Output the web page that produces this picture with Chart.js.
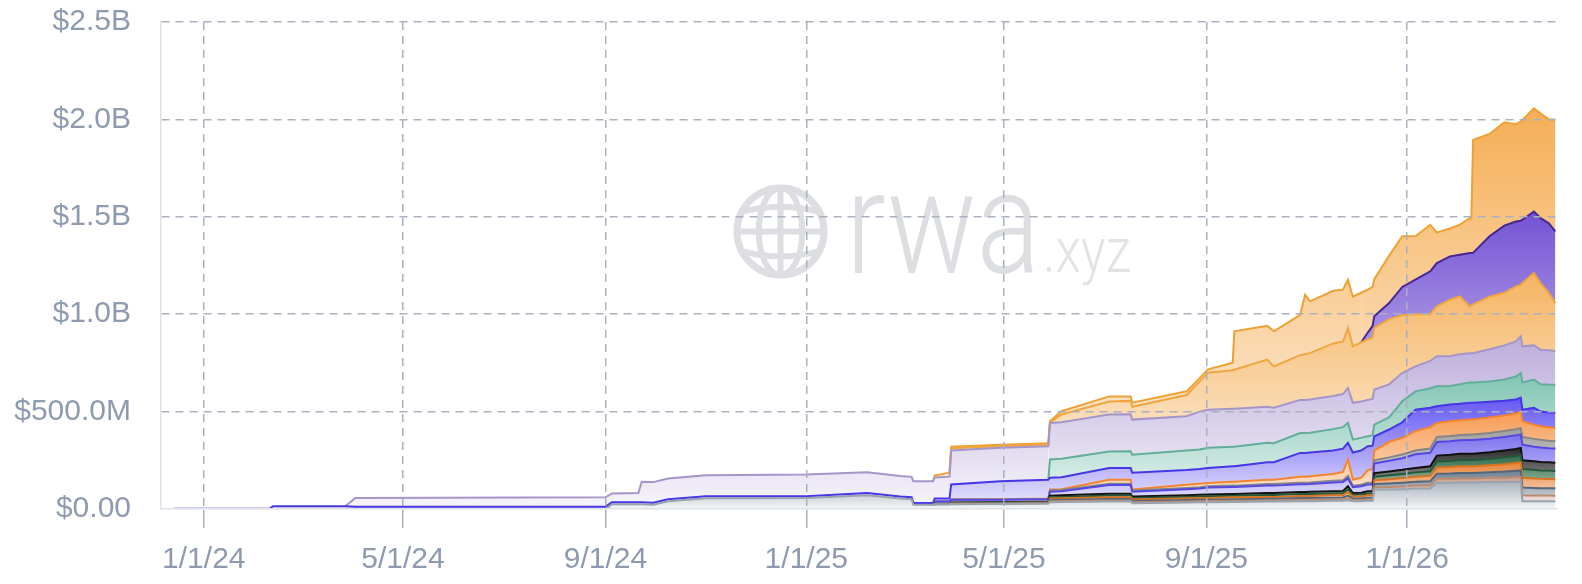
<!DOCTYPE html>
<html><head><meta charset="utf-8">
<script src="https://cdn.jsdelivr.net/npm/chart.js@4.4.1/dist/chart.umd.min.js"></script>
<style>html,body{margin:0;padding:0;background:#fff;}#wrap{width:1582px;height:584px;}</style>
</head><body><div id="wrap"><canvas id="c" width="1582" height="584"></canvas></div>
<script>
// ---------- DATA (values in $M, stacked bottom -> top) ----------
const dates = ['2023-12-14','2024-02-10','2024-02-12','2024-03-27','2024-04-02','2024-09-01','2024-09-05','2024-09-21','2024-09-23','2024-09-30','2024-10-09','2024-11-01','2025-01-01','2025-02-07','2025-02-27','2025-03-06','2025-03-07','2025-03-19','2025-03-20','2025-03-29','2025-03-30','2025-04-29','2025-05-28','2025-05-29','2025-06-05','2025-07-04','2025-07-17','2025-07-18','2025-08-20','2025-08-28','2025-09-02','2025-09-17','2025-09-18','2025-10-08','2025-10-12','2025-10-28','2025-10-31','2025-11-03','2025-11-17','2025-11-23','2025-11-26','2025-11-29','2025-12-04','2025-12-08','2025-12-11','2025-12-12','2025-12-21','2025-12-29','2026-01-06','2026-01-15','2026-01-19','2026-01-27','2026-02-02','2026-02-08','2026-02-09','2026-02-10','2026-02-20','2026-03-01','2026-03-08','2026-03-11','2026-03-12','2026-03-19','2026-03-23','2026-03-28','2026-04-01'];

const grayBase = [0,0,0,0,0,0,24,24,24,22,40,55,56,70,54,50,22,22,24,24,25,26,28,35,36,38,38,30,34,35,35,36,36,38,38,40,40,40,42,42,45,40,40,42,42,100,100,102,105,105,135,135,136,136,136,136,138,138,140,140,40,40,40,40,40];
const tan = [0,0,0,0,0,0,0,0,0,0,0,0,0,0,0,0,0,0,0,0,1,1,1,5,5,6,6,5,5,5,6,6,6,6,6,7,7,7,7,7,10,6,6,7,7,12,13,14,15,16,20,20,21,21,21,21,22,23,24,25,30,29,29,29,28];
const slate = [0,0,0,0,0,0,0,0,0,0,0,0,0,0,0,0,0,0,1,1,2,2,2,6,6,7,7,6,7,7,7,8,8,8,8,9,9,9,9,10,14,8,8,9,9,16,18,19,20,22,26,27,28,28,28,28,29,31,32,33,40,39,38,38,38];
const orange2 = [0,0,0,0,0,0,0,0,0,0,0,0,0,0,0,0,0,0,1,1,2,2,3,8,8,9,9,8,9,9,9,10,10,10,10,11,11,11,12,12,17,10,10,12,12,20,22,24,25,27,33,34,35,35,35,35,36,38,40,41,50,49,48,47,47];
const darkGreen = [0,0,0,0,0,0,0,0,0,0,0,0,0,0,0,0,0,0,0,0,2,2,2,7,7,9,9,7,8,8,9,8,8,10,10,10,10,10,10,11,15,9,10,10,10,18,20,21,23,24,30,31,31,32,32,32,33,35,36,37,45,44,43,43,42];
const black = [0,0,0,0,0,0,0,0,0,0,0,0,0,0,0,0,0,0,1,1,2,2,2,7,8,9,9,8,8,9,9,9,9,10,10,10,10,11,11,11,16,9,10,11,11,18,20,21,23,25,30,31,32,32,32,32,33,35,36,37,45,44,43,43,42];
const violet2 = [0,0,0,0,0,0,0,0,0,0,0,0,0,0,0,0,0,0,12,12,14,13,12,21,21,45,45,25,30,32,35,36,36,38,38,40,40,40,45,46,40,30,33,35,35,50,55,60,70,70,70,70,70,70,70,70,70,70,70,70,80,75,75,72,73];
const gray2 = [0,0,0,0,0,0,0,0,0,0,0,0,0,0,0,0,0,0,1,1,1,1,2,6,6,7,7,6,7,7,7,7,7,8,8,8,8,8,9,9,13,8,8,9,9,16,17,19,19,21,26,27,27,28,28,28,29,30,32,32,40,40,39,38,38];
const orangeBand = [0,0,0,0,0,0,0,0,0,0,0,0,0,0,0,0,0,0,0,0,0,1,2,5,5,20,20,5,17,18,17,20,20,22,22,30,30,32,35,42,84,31,35,65,70,50,80,85,100,110,72,75,75,78,78,78,80,80,80,85,80,73,70,70,68];
const blue = [1,1,14,14,12,12,11,11,11,10,10,10,10,12,10,10,9,9,14,14,77,93,96,60,61,60,61,86,75,75,77,80,80,90,90,123,123,122,120,120,86,139,140,122,120,73,63,80,110,100,85,86,85,85,85,85,80,76,72,72,60,87,75,75,77];
const teal = [0,0,0,0,0,0,0,0,0,0,0,0,0,0,0,0,0,0,0,0,0,0,0,94,95,85,85,93,100,100,103,100,100,100,98,102,102,102,110,110,102,66,65,51,53,60,62,108,94,100,103,96,100,105,105,105,105,109,118,126,140,144,140,143,145];
const lavender = [0,0,0,0,45,48,45,47,105,106,106,108,111,107,106,105,111,111,108,112,174,172,172,188,187,190,190,180,176,195,196,195,195,185,182,170,170,170,170,170,179,189,187,187,187,180,170,145,128,140,154,152,155,150,150,150,165,175,180,188,185,176,178,177,172];
const orangeB = [0,0,0,0,0,0,0,0,0,0,0,0,0,0,0,0,0,0,10,20,12,7,8,3,40,67,69,66,109,155,190,197,200,242,212,230,235,238,270,270,308,290,303,310,315,317,335,297,268,240,256,290,296,240,245,250,270,270,283,264,325,371,342,294,247];
const purple = [0,0,0,0,0,0,0,0,0,0,0,0,0,0,0,0,0,0,0,0,0,0,0,0,0,0,0,0,0,0,0,0,0,0,0,0,0,0,0,0,0,0,0,35,60,60,82,145,177,220,222,223,214,274,269,265,310,345,333,330,325,316,333,358,368];
const orangeA = [0,0,0,0,0,0,0,0,0,0,0,0,0,0,0,0,0,0,0,0,8,8,8,5,17,26,23,21,19,18,17,39,197,173,180,207,305,266,270,266,248,255,255,221,200,190,243,260,223,239,158,143,155,179,179,580,525,530,499,510,512,530,537,533,575];

const xTickDates = ['2024-01-01','2024-05-01','2024-09-01','2025-01-01','2025-05-01','2025-09-01','2026-01-01'];
const xTickLabels = ['1/1/24','5/1/24','9/1/24','1/1/25','5/1/25','9/1/25','1/1/26'];
const yTickValues = [0,500,1000,1500,2000,2500];
const yTickLabels = ['$0.00','$500.0M','$1.0B','$1.5B','$2.0B','$2.5B'];
const xRange = ['2023-12-06','2026-04-02'];

// ---------- STYLES ----------
const layers = [
  {v: grayBase,   fill:'#a9b3bd', line:'#98a3ae'},
  {v: tan,        fill:'#c9a08c', line:'#b98a74'},
  {v: slate,      fill:'#6c7e90', line:'#56677a'},
  {v: orange2,    fill:'#e8843a', line:'#d9731f'},
  {v: darkGreen,  fill:'#2f6b47', line:'#24573a'},
  {v: black,      fill:'#2a2a2a', line:'#111111'},
  {v: violet2,    fill:'#7d72f0', line:'#5547e3'},
  {v: gray2,      fill:'#9f9f9f', line:'#858585'},
  {v: orangeBand, fill:'#f79b52', line:'#f3852d'},
  {v: blue,       fill:'#6557f4', line:'#4636e6'},
  {v: teal,       fill:'#80c4b2', line:'#62ae9a'},
  {v: lavender,   fill:'#bcaddb', line:'#a595c8'},
  {v: orangeB,    fill:'#f5b462', line:'#f0a63f'},
  {v: purple,     fill:'#7453d4', line:'#472592'},
  {v: orangeA,    fill:'#f5ae55', line:'#eda132'}
];

const DAY0 = Date.UTC(2024,0,1);
function dayOf(s){ return (Date.UTC(+s.slice(0,4), +s.slice(5,7)-1, +s.slice(8,10)) - DAY0)/864e5; }
const xs = dates.map(dayOf);

const maxTop = [];
(function(){ const run = dates.map(()=>0); layers.forEach((L,k)=>{ let m=0; L.v.forEach((val,i)=>{ run[i]+=val; if(run[i]>m) m=run[i]; }); maxTop[k]=m; }); })();

function rgba(hex,a){ const n=parseInt(hex.slice(1),16); return `rgba(${(n>>16)&255},${(n>>8)&255},${n&255},${a})`; }
function gradFor(k, hex){
  return (ctx)=>{
    const ch = ctx.chart, a = ch.chartArea;
    if(!a) return rgba(hex,0.6);
    const top = Math.min(ch.scales.y.getPixelForValue(maxTop[k]), a.bottom-2);
    const g = ch.ctx.createLinearGradient(0, top, 0, a.bottom);
    g.addColorStop(0, rgba(hex,1));
    g.addColorStop(1, rgba(hex,0.12));
    return g;
  };
}

const datasets = layers.map((L,k)=>({
  data: xs.map((x,i)=>({x, y: L.v[i]})),
  borderColor: L.line,
  borderWidth: 2,
  pointRadius: 0,
  tension: 0,
  fill: k===0 ? 'origin' : '-1',
  backgroundColor: gradFor(k, L.fill),
  segment: { borderColor: (c)=> (L.v[c.p0DataIndex]===0 && L.v[c.p1DataIndex]===0) ? 'rgba(0,0,0,0)' : undefined }
}));

const watermark = {
  id:'watermark',
  beforeDraw(chart){
    const c = chart.ctx;
    c.save();
    const cx=780.5, cy=231.5, r=43.5;
    c.strokeStyle='#dcdee2'; c.lineWidth=7;
    c.beginPath(); c.arc(cx,cy,r,0,Math.PI*2); c.stroke();
    c.save(); c.beginPath(); c.arc(cx,cy,r,0,Math.PI*2); c.clip();
    c.lineWidth=6;
    c.beginPath(); c.moveTo(cx,cy-r); c.lineTo(cx,cy+r); c.stroke();
    c.beginPath(); c.ellipse(cx,cy,r*0.5,r,0,0,Math.PI*2); c.stroke();
    c.beginPath(); c.moveTo(cx-r,cy); c.lineTo(cx+r,cy); c.stroke();
    c.beginPath(); c.moveTo(cx-r,cy-r*0.42); c.quadraticCurveTo(cx,cy-r*0.72,cx+r,cy-r*0.42); c.stroke();
    c.beginPath(); c.moveTo(cx-r,cy+r*0.42); c.quadraticCurveTo(cx,cy+r*0.72,cx+r,cy+r*0.42); c.stroke();
    c.restore();
    c.fillStyle='#dcdee2';
    c.font='300 145px Roboto';
    let w=c.measureText('rwa').width;
    c.save(); c.translate(846,273); c.scale(194/w,1); c.fillText('rwa',0,0); c.restore();
    c.fillStyle='#e1e3e6';
    c.font='300 63px Roboto';
    w=c.measureText('.xyz').width;
    c.save(); c.translate(1043,272); c.scale(88/w,1); c.fillText('.xyz',0,0); c.restore();
    c.restore();
  }
};

const tickFont = {family:'"Liberation Sans", Arial, sans-serif', size:30};
const labelColor = '#8e9aaf';
const gridColor = '#a9b1bf';

new Chart(document.getElementById('c'), {
  type:'line',
  data:{datasets},
  options:{
    responsive:false, animation:false, devicePixelRatio:1,
    layout:{padding:{left:0,right:25,top:22,bottom:0}},
    plugins:{legend:{display:false}, tooltip:{enabled:false}},
    scales:{
      x:{
        type:'linear', min: dayOf(xRange[0]), max: dayOf(xRange[1]),
        afterBuildTicks:(s)=>{ s.ticks = xTickDates.map(d=>({value: dayOf(d)})); },
        afterFit:(s)=>{ s.height = 75; },
        ticks:{ autoSkip:false, maxRotation:0, padding:14, color:labelColor, font:tickFont,
          callback:(v,i)=> xTickLabels[i] },
        grid:{ color:gridColor, lineWidth:1.5, drawTicks:true, tickLength:19, tickColor:gridColor, tickWidth:1.5, z:1 },
        border:{ display:true, color:'#dde2e9', width:1.5, dash:[8,6], z:2 }
      },
      y:{
        type:'linear', stacked:true, min:0, max:2500,
        afterBuildTicks:(s)=>{ s.ticks = yTickValues.map(v=>({value:v})); },
        afterFit:(s)=>{ s.width = 161; },
        ticks:{ padding:0, color:labelColor, font:tickFont, callback:(v,i)=> yTickLabels[i] },
        grid:{ color:(c)=> (c.tick && c.tick.value===0) ? 'rgba(0,0,0,0)' : gridColor, lineWidth:1.5, drawTicks:true, tickLength:30, tickColor:'rgba(0,0,0,0)', z:1 },
        border:{ display:true, color:'#dde2e9', width:1.5, dash:[8,6], z:2 }
      }
    }
  },
  plugins:[watermark]
});
</script>
</body></html>
